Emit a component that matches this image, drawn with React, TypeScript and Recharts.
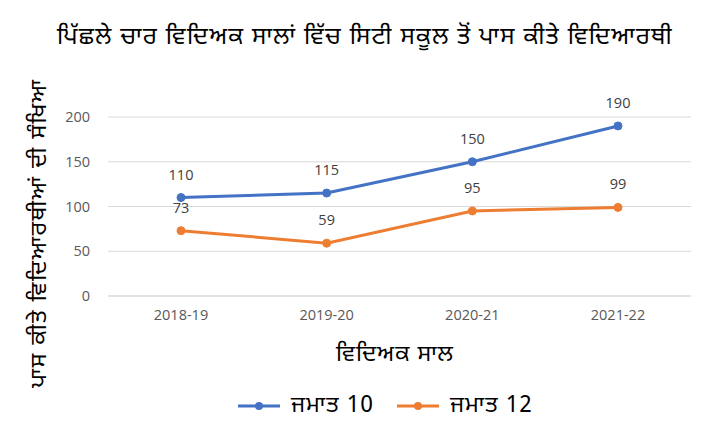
import React from "react";
import { CartesianGrid, LabelList, Line, LineChart, XAxis, YAxis } from "recharts";

const years = ["2018-19", "2019-20", "2020-21", "2021-22"];
const class10 = [110, 115, 150, 190];
const class12 = [73, 59, 95, 99];
const yTicks = [0, 50, 100, 150, 200];

const data = years.map((year, i) => ({ year, class10: class10[i], class12: class12[i] }));

const FONT = '"Noto Sans Gurmukhi", "Noto Sans", "Open Sans", sans-serif';
const NUM_FONT = '"Open Sans", "Noto Sans", sans-serif';
const BLUE = "#4472C4";
const ORANGE = "#ED7D31";

function LegendItem({ color, text }: { color: string; text: string }) {
  return (
    <div style={{ display: "flex", alignItems: "center", marginRight: 22 }}>
      <svg width={44} height={12} style={{ marginRight: 10 }}>
        <line x1={1} y1={6} x2={43} y2={6} stroke={color} strokeWidth={3} />
        <circle cx={22} cy={6} r={4} fill={color} />
      </svg>
      <span>{text}</span>
    </div>
  );
}

export default function App() {
  return (
    <div
      style={{
        position: "relative",
        width: 706,
        height: 436,
        margin: -8,
        background: "#fff",
        fontFamily: FONT,
      }}
    >
      <div
        style={{
          position: "absolute",
          left: 3,
          top: 3,
          width: 698,
          height: 430,
          border: "1px solid #d9d9d9",
          boxSizing: "border-box",
        }}
      />
      <LineChart
        width={706}
        height={436}
        data={data}
        margin={{ top: 117, right: 15, bottom: 0, left: 0 }}
      >
        <CartesianGrid vertical={false} stroke="#d9d9d9" />
        <XAxis
          dataKey="year"
          height={140}
          padding={{ left: 73, right: 73 }}
          axisLine={{ stroke: "#d9d9d9" }}
          tickLine={false}
          tickMargin={8}
          tick={{ fontSize: 14.5, fill: "#595959", fontFamily: NUM_FONT }}
        />
        <YAxis
          width={108}
          domain={[0, 200]}
          ticks={yTicks}
          axisLine={false}
          tickLine={false}
          tickMargin={12}
          tick={{ fontSize: 14.5, fill: "#595959", fontFamily: NUM_FONT }}
        />
        <Line
          dataKey="class10"
          stroke={BLUE}
          strokeWidth={3}
          dot={{ r: 4, fill: BLUE, stroke: BLUE, strokeWidth: 1 }}
          isAnimationActive={false}
        >
          <LabelList dataKey="class10" position="top" offset={18} fontSize={14.5} fill="#404040" fontFamily={NUM_FONT} />
        </Line>
        <Line
          dataKey="class12"
          stroke={ORANGE}
          strokeWidth={3}
          dot={{ r: 4, fill: ORANGE, stroke: ORANGE, strokeWidth: 1 }}
          isAnimationActive={false}
        >
          <LabelList dataKey="class12" position="top" offset={18} fontSize={14.5} fill="#404040" fontFamily={NUM_FONT} />
        </Line>
      </LineChart>

      <div
        style={{
          position: "absolute",
          left: 365,
          top: 38,
          transform: "translate(-50%, -50%)",
          fontSize: 24,
          letterSpacing: 1.3,
          color: "#000",
          whiteSpace: "nowrap",
        }}
      >
        ਪਿੱਛਲੇ ਚਾਰ ਵਿਦਿਅਕ ਸਾਲਾਂ ਵਿੱਚ ਸਿਟੀ ਸਕੂਲ ਤੋਂ ਪਾਸ ਕੀਤੇ ਵਿਦਿਆਰਥੀ
      </div>
      <div
        style={{
          position: "absolute",
          left: 40,
          top: 233,
          transform: "translate(-50%, -50%) rotate(-90deg)",
          fontSize: 23,
          letterSpacing: 1.5,
          whiteSpace: "nowrap",
        }}
      >
        ਪਾਸ ਕੀਤੇ ਵਿਦਿਆਰਥੀਆਂ ਦੀ ਸੰਖਿਆ
      </div>
      <div
        style={{
          position: "absolute",
          left: 395,
          top: 355,
          transform: "translate(-50%, -50%)",
          fontSize: 23,
          letterSpacing: 1,
          whiteSpace: "nowrap",
        }}
      >
        ਵਿਦਿਅਕ ਸਾਲ
      </div>
      <div
        style={{
          position: "absolute",
          left: 396,
          top: 406,
          transform: "translate(-50%, -50%)",
          display: "flex",
          fontSize: 23,
          letterSpacing: 1,
          whiteSpace: "nowrap",
        }}
      >
        <LegendItem color={BLUE} text="ਜਮਾਤ 10" />
        <LegendItem color={ORANGE} text="ਜਮਾਤ 12" />
      </div>
    </div>
  );
}
